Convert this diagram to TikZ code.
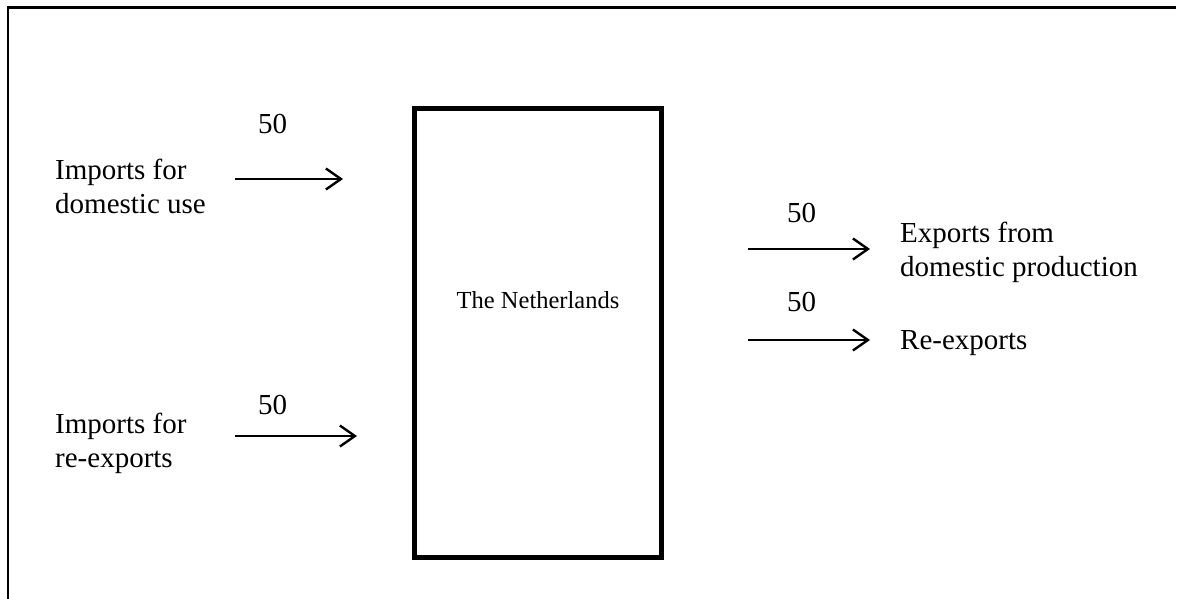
\documentclass[tikz,border=0pt]{standalone}
\usepackage{fontspec}
\setmainfont{Liberation Serif}
\usetikzlibrary{arrows.meta}
\begin{document}
\begin{tikzpicture}[x=1pt,y=-1pt,
  lbl/.style={inner sep=0pt,anchor=base west,align=left,font=\fontsize{29}{34}\selectfont},
  num/.style={inner sep=0pt,anchor=base west,font=\fontsize{29}{34}\selectfont},
  flow/.style={line width=2.4pt,-{Straight Barb[length=15pt,width=21pt,line width=2.4pt]}},
  country/.style={draw,line width=5pt,inner sep=0pt,minimum width=247pt,minimum height=449pt,font=\fontsize{24.5}{29}\selectfont}]
\useasboundingbox (0,0) rectangle (1177,599);
\draw[line width=2.6pt] (8,599) -- (8,7.3) -- (1176,7.3);
% box
\node[country] (nl) at (538,333) {};
\node[inner sep=0pt,font=\fontsize{24.5}{29}\selectfont] (nltext) at (538,300) {The Netherlands};
% left side
\node[lbl] (imp1) at (55,213) {Imports for\\domestic use};
\node[num] (v1) at (258,133) {50};
\coordinate (a1s) at (235,179);
\coordinate (a1e) at (343,179);
\draw[flow] (a1s) -- (a1e);
\node[lbl] (imp2) at (55,467) {Imports for\\re-exports};
\node[num] (v2) at (258,414) {50};
\coordinate (a2s) at (235,436);
\coordinate (a2e) at (357,436);
\draw[flow] (a2s) -- (a2e);
% right side
\node[num] (v3) at (787,222) {50};
\coordinate (a3s) at (748,249);
\coordinate (a3e) at (870,249);
\draw[flow] (a3s) -- (a3e);
\node[lbl] (exp1) at (900,276) {Exports from\\domestic production};
\node[num] (v4) at (787,311) {50};
\coordinate (a4s) at (748,340);
\coordinate (a4e) at (870,340);
\draw[flow] (a4s) -- (a4e);
\node[lbl] (exp2) at (900,349) {Re-exports};
\end{tikzpicture}
\end{document}
